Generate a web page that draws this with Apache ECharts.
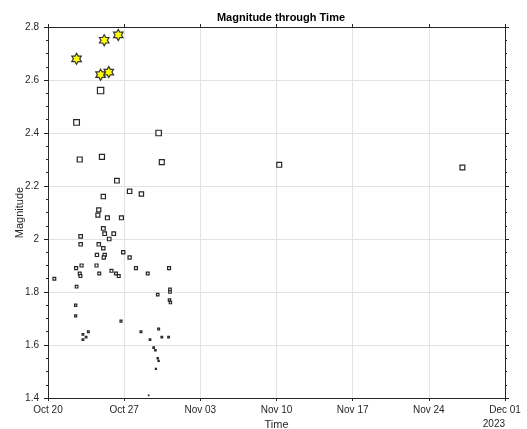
<!DOCTYPE html>
<html>
<head>
<meta charset="utf-8">
<script src="https://cdn.jsdelivr.net/npm/echarts@6/dist/echarts.min.js"></script>
<style>
  html, body { margin: 0; padding: 0; background: #fff; }
  #chart { width: 527px; height: 429px; }
</style>
</head>
<body>
<div id="chart"></div>
<script>
// Event catalogue: origin time (2023) and magnitude
const eventTimes = [
  '10-22 15:00', '10-25 04:00', '10-26 11:00', '10-24 20:00', '10-25 14:00',
  '10-24 20:00', '10-22 15:00', '10-30 04:00', '10-22 22:00', '10-24 23:00',
  '10-30 11:00', '10-26 08:00', '10-25 02:00', '10-27 12:00', '10-28 14:00',
  '10-24 16:00', '10-24 14:00', '10-25 11:00', '10-26 18:00', '10-25 02:00',
  '10-25 05:00', '10-26 01:00', '10-25 15:00', '10-23 00:00', '10-23 00:00',
  '10-24 16:00', '10-25 02:00', '10-24 12:00', '10-25 05:00', '10-25 03:00',
  '10-26 22:00', '10-27 12:00', '10-23 02:00', '10-22 14:00', '10-24 11:00',
  '10-22 22:00', '10-22 23:30', '10-24 17:00', '10-25 20:00', '10-26 06:00',
  '10-26 12:00', '10-28 02:00', '10-29 04:00', '10-31 03:00', '10-20 14:00',
  '10-22 15:00', '10-22 13:00', '10-22 13:00', '10-31 05:00', '10-31 05:00',
  '10-30 02:00', '10-31 04:00', '10-31 06:00', '10-26 17:00', '10-23 05:00',
  '10-23 17:00', '10-23 12:00', '10-23 05:00', '10-28 13:00', '10-30 04:00',
  '10-29 09:00', '10-30 11:00', '10-31 02:00', '10-29 17:00', '10-29 21:00',
  '10-30 02:00', '10-30 04:00', '10-29 22:00', '10-29 06:00', '11-10 06:00',
  '11-27 02:00'
];
const magnitudes = [
  2.68, 2.75, 2.77, 2.62, 2.63,
  2.56, 2.44, 2.40, 2.30, 2.31,
  2.29, 2.22, 2.16, 2.18, 2.17,
  2.11, 2.09, 2.08, 2.08, 2.04,
  2.02, 2.02, 2.00, 2.01, 1.98,
  1.98, 1.965, 1.94, 1.94, 1.93,
  1.95, 1.93, 1.90, 1.89, 1.90,
  1.87, 1.86, 1.87, 1.88, 1.87,
  1.86, 1.89, 1.87, 1.89, 1.85,
  1.82, 1.75, 1.71, 1.81, 1.80,
  1.79, 1.77, 1.76, 1.69, 1.64,
  1.65, 1.63, 1.62, 1.65, 1.66,
  1.62, 1.63, 1.63, 1.59, 1.58,
  1.55, 1.54, 1.51, 1.41, 2.28,
  2.27
];
// Events at or above this magnitude are highlighted with a star
const highlightMag = 2.6;

// Time axis: days since the start date, weekly ticks
const startDate = '2023-10-20';
const spanDays = 42;
const tickLabels = ['Oct 20', 'Oct 27', 'Nov 03', 'Nov 10', 'Nov 17', 'Nov 24', 'Dec 01'];
const yearLabel = '2023';

const t0 = Date.parse(startDate + 'T00:00:00Z');
function dayOffset(s) {
  const [md, hm] = s.split(' ');
  const [mo, d] = md.split('-');
  const t = Date.parse('2023-' + mo + '-' + d + 'T' + hm + ':00Z');
  return (t - t0) / 86400000;
}

const stars = [], squares = [];
eventTimes.forEach((s, i) => {
  const pt = [dayOffset(s), magnitudes[i]];
  (magnitudes[i] >= highlightMag ? stars : squares).push(pt);
});

// six-pointed star outline
const hexagram = 'path://M0,-1000L289,-500L866,-500L577,0L866,500L289,500L0,1000L-289,500L-866,500L-577,0L-866,-500L-289,-500Z';

const ink = '#262626';
const font = '"Liberation Sans", Arial, Helvetica, sans-serif';
const gridLine = { show: true, lineStyle: { color: '#e3e3e3', width: 1 } };

const chart = echarts.init(document.getElementById('chart'), null, { renderer: 'canvas' });
chart.setOption({
  animation: false,
  backgroundColor: '#fff',
  title: {
    text: 'Magnitude through Time',
    left: 276, top: 7, textAlign: 'center',
    textStyle: { fontFamily: font, fontSize: 11, fontWeight: 'bold', color: '#000' }
  },
  grid: { left: 48, right: 22, top: 27, bottom: 31, containLabel: false, outerBoundsMode: 'none' },
  xAxis: [{
    type: 'value', min: 0, max: spanDays, interval: 7, position: 'bottom',
    name: 'Time', nameLocation: 'middle', nameGap: 21,
    nameTextStyle: { fontFamily: font, fontSize: 11, color: ink },
    axisLine: { show: true, onZero: false, lineStyle: { color: ink, width: 1 } },
    axisTick: { show: true, inside: false, length: 3, lineStyle: { color: ink } },
    axisLabel: {
      fontFamily: font, fontSize: 10, color: ink, margin: 7,
      formatter: v => tickLabels[Math.round(v / 7)] || ''
    },
    splitLine: gridLine
  }, {
    type: 'value', min: 0, max: spanDays, interval: 7, position: 'top',
    axisLine: { show: true, onZero: false, lineStyle: { color: ink, width: 1 } },
    axisTick: { show: true, inside: false, length: 3, lineStyle: { color: ink } },
    axisLabel: { show: false }, splitLine: { show: false }
  }],
  yAxis: [{
    type: 'value', min: 1.4, max: 2.8, interval: 0.2, position: 'left',
    name: 'Magnitude', nameLocation: 'middle', nameGap: 23, nameMoveOverlap: false,
    nameTextStyle: { fontFamily: font, fontSize: 11, color: ink },
    axisLine: { show: true, onZero: false, lineStyle: { color: ink, width: 1 } },
    axisTick: { show: true, inside: false, length: 4, lineStyle: { color: ink } },
    minorTick: { show: true, splitNumber: 4, length: 2, lineStyle: { color: ink } },
    axisLabel: {
      fontFamily: font, fontSize: 10, color: ink, margin: 9,
      formatter: v => String(Math.round(v * 10) / 10)
    },
    splitLine: gridLine
  }, {
    type: 'value', min: 1.4, max: 2.8, interval: 0.2, position: 'right',
    axisLine: { show: true, onZero: false, lineStyle: { color: ink, width: 1 } },
    axisTick: { show: true, inside: false, length: 4, lineStyle: { color: ink } },
    minorTick: { show: true, splitNumber: 4, length: 2, lineStyle: { color: ink } },
    axisLabel: { show: false }, splitLine: { show: false }
  }],
  graphic: [{
    type: 'text', right: 22, top: 419,
    style: { text: yearLabel, fontFamily: font, fontSize: 10, fill: ink, textAlign: 'right' }
  }],
  series: [{
    type: 'scatter',
    data: squares,
    symbol: 'rect',
    symbolSize: d => 1 + (d[1] - 1.5) * 5,
    itemStyle: { color: '#fff', borderColor: ink, borderWidth: 1.2, opacity: 1 },
    z: 2
  }, {
    type: 'scatter',
    data: stars,
    symbol: hexagram,
    symbolKeepAspect: true,
    symbolSize: 11,
    itemStyle: { color: '#ffff00', borderColor: '#333', borderWidth: 1.2, opacity: 1 },
    z: 3
  }]
});
</script>
</body>
</html>
